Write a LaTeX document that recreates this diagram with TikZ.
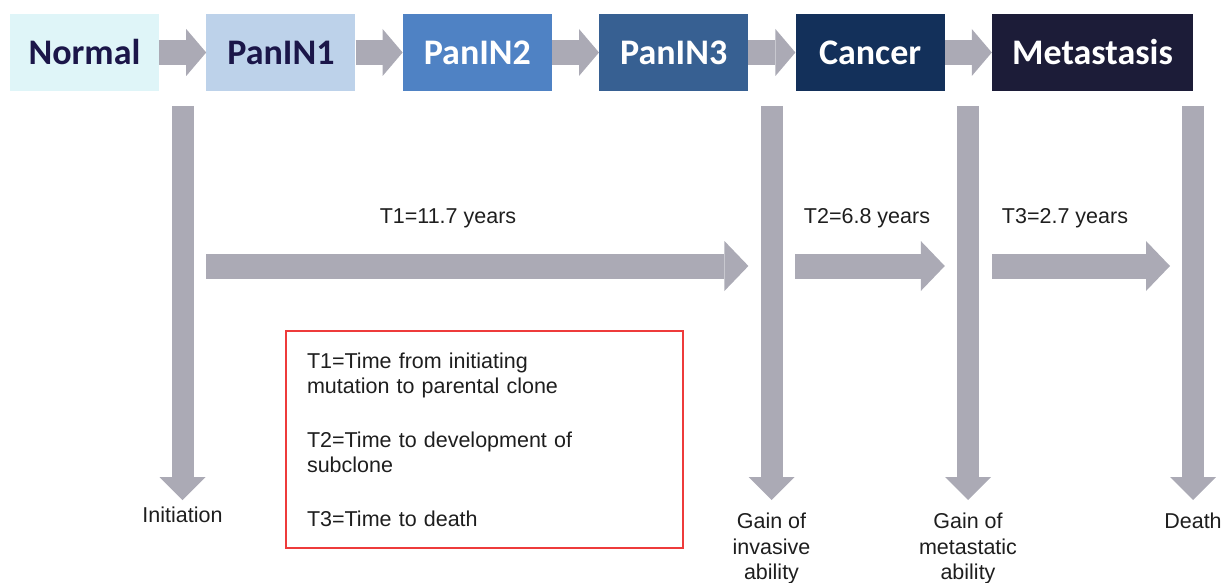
\documentclass[tikz,border=0pt]{standalone}
\usepackage{fontspec}
\setmainfont{Liberation Sans}
\newfontfamily\calibri{Carlito}
\usetikzlibrary{arrows.meta, positioning}
\definecolor{cNormal}{HTML}{DFF5F8}
\definecolor{cPanINa}{HTML}{BDD2EA}
\definecolor{cPanINb}{HTML}{4F82C4}
\definecolor{cPanINc}{HTML}{376092}
\definecolor{cCancer}{HTML}{13305A}
\definecolor{cMeta}{HTML}{1C1C38}
\definecolor{cInk}{HTML}{1B1649}
\definecolor{cGrey}{HTML}{ABAAB5}
\definecolor{cText}{HTML}{1E1E1E}
\definecolor{cRed}{HTML}{EE3B3B}
\tikzset{
  stage/.style={fill=#1, text=white, minimum width=149pt, minimum height=77pt, inner sep=0pt,
    font=\calibri\bfseries\fontsize{36}{40}\selectfont},
  arr/.style={draw=cGrey, line width=25pt, -{Triangle[length=20pt, width=47pt, line width=0pt]}},
  tarr/.style={draw=cGrey, line width=25pt, -{Triangle[length=24pt, width=50pt, line width=0pt]}},
  down/.style={draw=cGrey, line width=22pt, -{Triangle[length=23pt, width=46pt, line width=0pt]}},
  lbl/.style={text=cText, inner sep=0pt, align=center, font=\fontsize{21.5}{25.5}\selectfont},
  keybox/.style={draw=cRed, line width=2pt, text=cText, minimum height=217pt, text width=355pt,
    inner xsep=21pt, align=left, font=\fontsize{21.5}{25.5}\selectfont},
}
\begin{document}
\begin{tikzpicture}[x=1pt, y=-1pt, node distance=47pt]
  \useasboundingbox (0,0) rectangle (1227,583);
  % stages
  \node[stage=cNormal, text=cInk] (normal) at (84.5,52.5) {Normal};
  \node[stage=cPanINa, text=cInk, right=of normal] (panin1) {PanIN1};
  \node[stage=cPanINb, right=of panin1] (panin2) {PanIN2};
  \node[stage=cPanINc, right=of panin2] (panin3) {PanIN3};
  \node[stage=cCancer, right=of panin3] (cancer) {Cancer};
  \node[stage=cMeta, minimum width=201pt, right=of cancer] (meta) {Metastasis};
  \foreach \a/\b in {normal/panin1, panin1/panin2, panin2/panin3, panin3/cancer, cancer/meta}
    \draw[arr] (\a) -- (\b);

  % events
  \coordinate (e1) at (182.5,106);
  \coordinate (e2) at (771.5,106);
  \coordinate (e3) at (968,106);
  \coordinate (e4) at (1193,106);
  \node[lbl, anchor=north] (init) at (182.5,507) {Initiation};
  \node[lbl, anchor=north] (invasive) at (771.5,513) {Gain of\\invasive\\ability};
  \node[lbl, anchor=north] (metastatic) at (968,513) {Gain of\\metastatic\\ability};
  \node[lbl, anchor=north] (death) at (1193,513) {Death};
  \draw[down, shorten >=7pt] (e1) -- (init);
  \draw[down, shorten >=13pt] (e2) -- (invasive);
  \draw[down, shorten >=13pt] (e3) -- (metastatic);
  \draw[down, shorten >=13pt] (e4) -- (death);

  % times
  \coordinate (t1a) at (panin1.west |- 0,266);
  \coordinate (t1b) at (panin3.east |- 0,266);
  \coordinate (t2a) at (cancer.west |- 0,266);
  \coordinate (t2b) at (cancer.east |- 0,266);
  \coordinate (t3a) at (meta.west |- 0,266);
  \coordinate (t3b) at (1170,266);
  \draw[tarr] (t1a) -- (t1b);
  \draw[tarr] (t2a) -- (t2b);
  \draw[tarr] (t3a) -- (t3b);
  \node[lbl] (t1) at (448,218) {T1=11.7 years};
  \node[lbl] (t2) at (867,218) {T2=6.8 years};
  \node[lbl] (t3) at (1065,218) {T3=2.7 years};

  % key
  \node[keybox] (key) at (484.5,439.5) {T1=Time from initiating\\mutation to parental clone\\[28pt]
    T2=Time to development of\\subclone\\[28pt]T3=Time to death};
\end{tikzpicture}
\end{document}
